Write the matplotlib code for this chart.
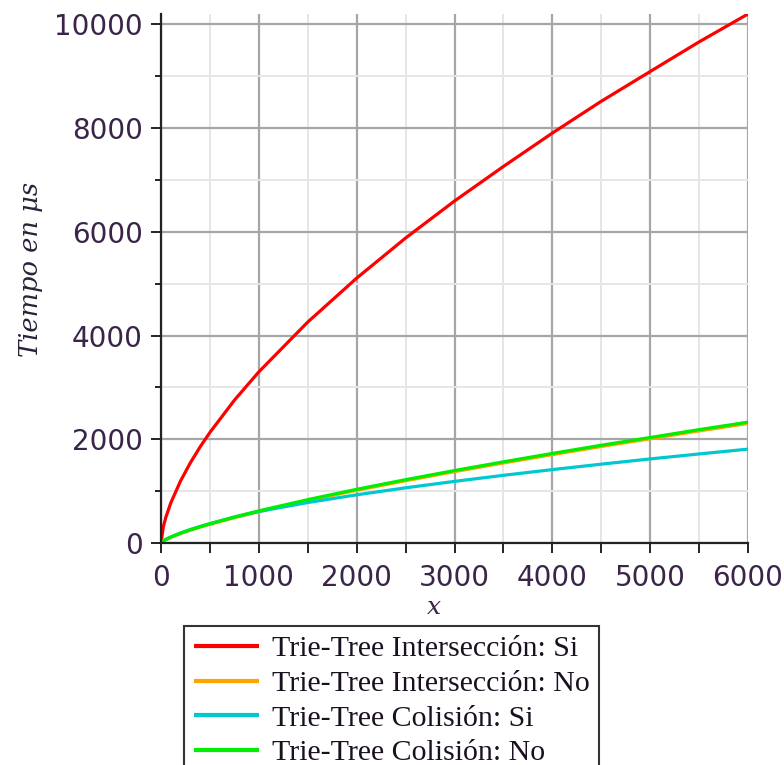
import matplotlib
matplotlib.use("Agg")
import matplotlib.pyplot as plt
from matplotlib.ticker import MultipleLocator

# Data
x_vals = [0, 25, 50, 100, 200, 300, 400, 500, 750, 1000, 1500, 2000, 2500,
          3000, 3500, 4000, 4500, 5000, 5500, 6000]
inter_si = [0, 323, 499, 773, 1197, 1546, 1854, 2132, 2753, 3300, 4260, 5107,
            5880, 6594, 7260, 7904, 8517, 9091, 9662, 10200]
inter_no = [0, 38, 64, 108, 182, 246, 305, 360, 487, 604, 818, 1015, 1200,
            1375, 1542, 1703, 1860, 2009, 2160, 2305]
col_si = [0, 45, 72, 118, 195, 260, 318, 372, 500, 608, 780, 929, 1064,
          1188, 1305, 1415, 1520, 1621, 1717, 1810]
col_no = [0, 41, 68, 113, 189, 255, 315, 372, 501, 620, 836, 1035, 1221,
          1397, 1565, 1727, 1885, 2034, 2186, 2330]

labels = ["Trie-Tree Intersección: Si", "Trie-Tree Intersección: No",
          "Trie-Tree Colisión: Si", "Trie-Tree Colisión: No"]
colors = ["#ff0000", "#ffa500", "#00c8d0", "#00ee00"]

W, H = 784, 765
fig = plt.figure(figsize=(W / 100, H / 100), dpi=100)
ax = fig.add_axes([161 / W, 1 - 543 / H, (748 - 161) / W, (543 - 14) / H])

series = [inter_si, inter_no, col_si, col_no]
handles = []
for ys, c, lab in zip(series, colors, labels):
    h, = ax.plot(x_vals, ys, color=c, lw=2.3, label=lab, solid_capstyle="butt")
    handles.append(h)

ax.set_xlim(0, 6000)
ax.set_ylim(0, 10200)
ax.xaxis.set_major_locator(MultipleLocator(1000))
ax.xaxis.set_minor_locator(MultipleLocator(500))
ax.yaxis.set_major_locator(MultipleLocator(2000))
ax.yaxis.set_minor_locator(MultipleLocator(1000))

ax.grid(which="major", color="#a6a6a6", lw=1.6)
ax.grid(which="minor", color="#e6e6e6", lw=1.4)
ax.set_axisbelow(True)

for s in ["top", "right"]:
    ax.spines[s].set_visible(False)
for s in ["left", "bottom"]:
    ax.spines[s].set_color("#222222")
    ax.spines[s].set_linewidth(1.6)

tick_color = "#3a2448"
ax.tick_params(axis="both", which="major", length=7, width=1.4, color="#222222",
               labelsize=20, labelcolor=tick_color, pad=6)
ax.tick_params(axis="x", which="minor", length=7, width=1.4, color="#222222")
ax.tick_params(axis="y", which="minor", length=4, width=1.4, color="#222222")
ax.tick_params(axis="x", which="major", pad=8)

ax.set_xlabel("x", family="DejaVu Serif", style="italic", fontsize=18,
              color="#3a2448", labelpad=0)
ax.xaxis.set_label_coords((434 - 161) / (748 - 161), -(608 - 543) / (543 - 14),
                          transform=ax.transAxes)
ax.xaxis.label.set_va("center")
ax.set_ylabel("Tiempo en μs", family="DejaVu Serif", style="italic",
              fontsize=18.5, color="#2a2038")
ax.yaxis.set_label_coords(-(161 - 31) / (748 - 161), 1 - (269 - 14) / (543 - 14),
                          transform=ax.transAxes)
ax.yaxis.label.set_va("center")

leg = fig.legend(handles=handles, labels=labels, loc="upper left",
                 bbox_to_anchor=(184 / W, 1 - 626 / H), borderaxespad=0,
                 prop={"family": "Liberation Serif", "size": 21.5},
                 handlelength=2.2, handletextpad=0.42, labelspacing=0.26,
                 borderpad=0.32, fancybox=False, framealpha=1)
leg.get_frame().set_edgecolor("#333333")
leg.get_frame().set_linewidth(1.5)
for t in leg.get_texts():
    t.set_color("#1a1020")
for l in leg.get_lines():
    l.set_linewidth(3)

fig.savefig("out.png", dpi=100)
